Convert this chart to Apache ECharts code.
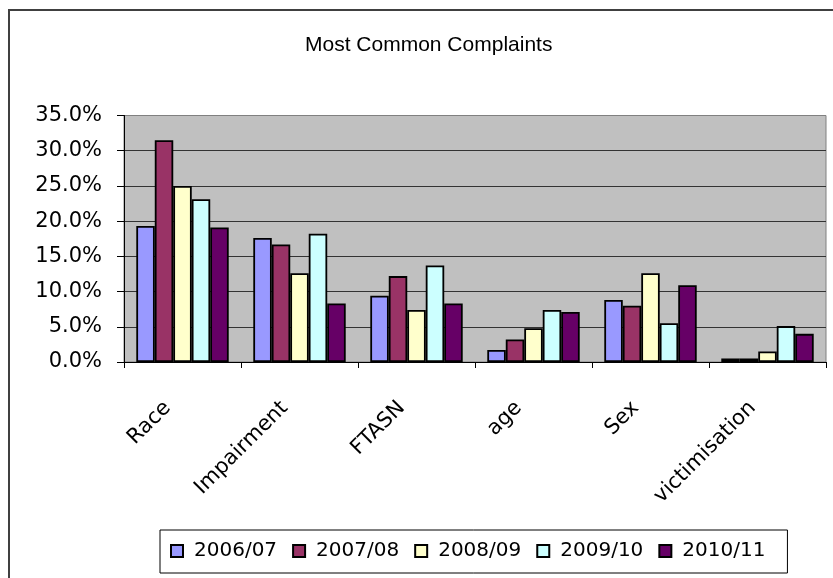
<!DOCTYPE html>
<html>
<head>
<meta charset="utf-8">
<script src="https://cdn.jsdelivr.net/npm/echarts@6/dist/echarts.min.js"></script>
<style>
  html, body { margin: 0; padding: 0; background: #fff; }
  #chart { width: 833px; height: 578px; }
</style>
</head>
<body>
<div id="chart"></div>
<script>
// complaint categories
var categories = ['Race', 'Impairment', 'FTASN', 'age', 'Sex', 'victimisation']
var years = ['2006/07', '2007/08', '2008/09', '2009/10', '2010/11']
var colors = ['#9999ff', '#993366', '#ffffcc', '#ccffff', '#660066']
// percentages
var y2006 = [19.3, 17.6, 9.4, 1.7, 8.8, 0.5]
var y2007 = [31.5, 16.7, 12.2, 3.2, 8.0, 0.5]
var y2008 = [25.0, 12.6, 7.4, 4.8, 12.6, 1.5]
var y2009 = [23.1, 18.2, 13.7, 7.4, 5.5, 5.1]
var y2010 = [19.1, 8.3, 8.3, 7.1, 10.9, 4.0]
var values = [y2006, y2007, y2008, y2009, y2010]

var chart = echarts.init(document.getElementById('chart'))

var series = years.map(function (name, i) {
    return {
        name: name,
        type: 'bar',
        data: values[i],
        barGap: '0%',
        barCategoryGap: '21%',
        itemStyle: { color: colors[i], borderColor: '#000', borderWidth: 1.8 }
    }
})

var option = {
    animation: false,
    backgroundColor: '#fff',
    graphic: [{
        type: 'rect',
        shape: { x: 9, y: 10, width: 840, height: 600 },
        style: { fill: 'none', stroke: '#404040', lineWidth: 2 },
        silent: true
    }],
    title: {
        text: 'Most Common Complaints',
        left: 300,
        top: 30,
        textStyle: { fontFamily: 'Liberation Sans', fontSize: 21, fontWeight: 'normal', color: '#000' }
    },
    legend: {
        data: years,
        left: 160,
        top: 530,
        padding: [11, 22, 12, 10],
        itemWidth: 12,
        itemHeight: 12,
        itemGap: 15,
        icon: 'rect',
        borderColor: '#000',
        borderWidth: 1,
        textStyle: { fontFamily: 'DejaVu Sans', fontSize: 20, color: '#000', padding: [0, 0, 0, 6] }
    },
    grid: {
        left: 124, right: 7, top: 115.5, bottom: 216,
        show: true,
        backgroundColor: '#c0c0c0',
        borderColor: '#808080',
        borderWidth: 1
    },
    xAxis: {
        type: 'category',
        data: categories,
        axisLine: { lineStyle: { color: '#000', width: 1 } },
        axisTick: { show: true, length: 6, lineStyle: { color: '#000' } },
        axisLabel: {
            rotate: 45,
            margin: 28,
            padding: [0, 21, 0, 0],
            interval: 0,
            fontFamily: 'DejaVu Sans',
            fontSize: 21,
            color: '#000'
        }
    },
    yAxis: {
        type: 'value',
        min: 0,
        max: 35,
        interval: 5,
        axisLine: { show: true, lineStyle: { color: '#000', width: 1 } },
        axisTick: { show: true, length: 7, lineStyle: { color: '#000' } },
        axisLabel: {
            margin: 22,
            fontFamily: 'DejaVu Sans',
            fontSize: 21,
            color: '#000',
            formatter: function (v) { return v.toFixed(1) + '%' }
        },
        splitLine: {
            show: true,
            lineStyle: { color: ['#333', '#333', '#333', '#333', '#333', '#333', '#333', '#808080'], width: 1 }
        }
    },
    series: series
}

chart.setOption(option)
</script>
</body>
</html>
